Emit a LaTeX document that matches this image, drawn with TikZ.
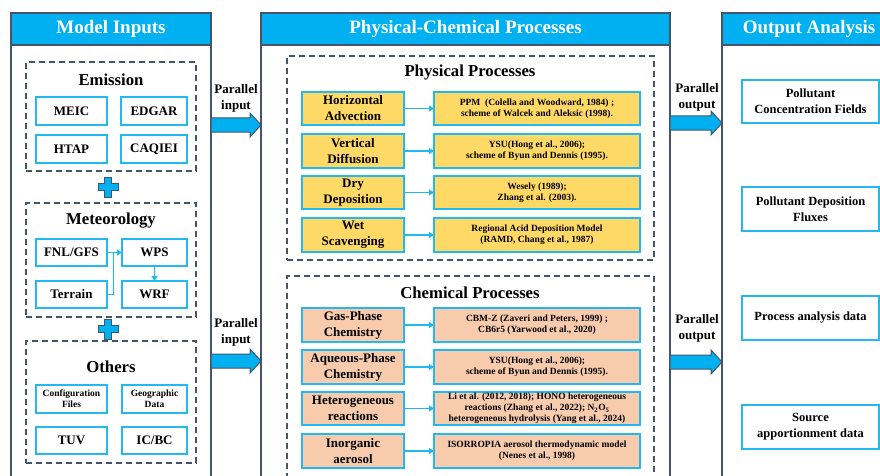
\documentclass[tikz,border=0pt]{standalone}
\usepackage{fontspec}
\setmainfont{Liberation Serif}
\usetikzlibrary{arrows.meta,calc}
\definecolor{hdrc}{HTML}{00B0F0}
\definecolor{framec}{HTML}{44546A}
\definecolor{bxc}{HTML}{22B8F0}
\definecolor{ylw}{HTML}{FFD966}
\definecolor{pch}{HTML}{F8CBAD}
\newcommand\bx[6]{\node[#1, minimum width={#4-#2}, minimum height={#5-#3}] (#6) at ({(#2+#4)/2},{(#3+#5)/2})}
\newcommand\plussign[2]{\path[plussty] (#1,#2) ++(-3.5,-10) -- ++(7,0) -- ++(0,6.5) -- ++(6.5,0) -- ++(0,7) -- ++(-6.5,0) -- ++(0,6.5) -- ++(-7,0) -- ++(0,-6.5) -- ++(-6.5,0) -- ++(0,-7) -- ++(6.5,0) -- cycle;}
\newcommand\blockarrow[3]{\path[barrow] (#1,#3) ++(0,-7) -- ++({#2-#1-11},0) -- ++(0,-5) -- ++(11,12) -- ++(-11,12) -- ++(0,-5) -- ++({-(#2-#1-11)},0) -- cycle;}
\begin{document}
\begin{tikzpicture}[x=1pt,y=-1pt,
  every node/.style={inner sep=1pt, outer sep=0pt},
  panelsty/.style={draw=framec, line width=1.5pt, fill=white},
  hdr/.style={draw=framec, line width=1.5pt, fill=hdrc, text=white, font=\fontsize{19}{22}\selectfont\bfseries},
  dbox/.style={draw=framec, line width=1.2pt, dash pattern=on 6pt off 4pt},
  ibox/.style={draw=bxc, line width=1.6pt, fill=white, align=center, font=\fontsize{13}{16}\selectfont\bfseries},
  smalltxt/.style={font=\fontsize{9.5}{11}\selectfont\bfseries},
  pbox/.style={ibox, fill=ylw},
  cbox/.style={ibox, fill=pch},
  prefbox/.style={pbox, smalltxt},
  crefbox/.style={cbox, smalltxt},
  obox/.style={ibox, font=\fontsize{12.5}{16}\selectfont\bfseries},
  sect/.style={font=\fontsize{16.7}{20}\selectfont\bfseries},
  lbl/.style={font=\fontsize{13}{16}\selectfont\bfseries, align=center},
  conn/.style={draw=bxc, line width=1.3pt, -{Triangle[length=5pt,width=6pt]}},
  thinl/.style={draw=bxc, line width=1.1pt},
  barrow/.style={fill=hdrc, draw=framec, line width=1pt},
  plussty/.style={fill=hdrc, draw=framec, line width=0.8pt}
]
\useasboundingbox (0,0) rectangle (880,476);
\clip (0,0) rectangle (880,476);

% ---------- Left panel ----------
\bx{panelsty}{11}{13}{211}{495}{inP} {};
\bx{hdr}{11}{13}{211}{45}{inH} {Model Inputs};
\bx{dbox}{26}{62}{196}{171}{emiB} {};
\node[sect] (emiT) at (111,80) {Emission};
\bx{ibox}{36}{97}{107}{125}{meic} {MEIC};
\bx{ibox}{121}{97}{187}{125}{edgar} {EDGAR};
\bx{ibox}{36}{135}{107}{163}{htap} {HTAP};
\bx{ibox}{121}{135}{187}{163}{caq} {CAQIEI};
\plussign{108}{187}
\bx{dbox}{26}{203}{196}{317}{metB} {};
\node[sect] (metT) at (111,221) {Meteorology};
\bx{ibox}{36}{239}{107}{266}{fnl} {FNL/GFS};
\bx{ibox}{122}{239}{187}{266}{wps} {WPS};
\bx{ibox}{36}{281}{107}{308}{ter} {Terrain};
\bx{ibox}{122}{281}{187}{308}{wrf} {WRF};
\coordinate (jn) at ($(fnl.east)!0.43!(wps.west)$);
\draw[conn] (fnl.east) -- (wps.west);
\draw[thinl] (ter.east) -| (jn);
\draw[conn] (wps.south) -- (wrf.north);
\plussign{108}{329}
\bx{dbox}{26}{341}{196}{463}{othB} {};
\node[sect] (othT) at (111,367) {Others};
\bx{ibox,smalltxt}{36}{385}{107}{413}{cfg} {Configuration\\Files};
\bx{ibox,smalltxt}{122}{385}{187}{413}{geo} {Geographic\\Data};
\bx{ibox}{36}{427}{107}{454}{tuv} {TUV};
\bx{ibox}{122}{427}{187}{454}{icbc} {IC/BC};

% ---------- Middle panel ----------
\bx{panelsty}{261}{13}{670}{495}{mdP} {};
\bx{hdr}{261}{13}{670}{45}{mdH} {Physical-Chemical Processes};
\bx{dbox}{287}{56}{654}{260}{phyB} {};
\node[sect] (phyT) at (470,73) {Physical Processes};
\bx{pbox}{302}{92}{404}{125}{ha} {Horizontal\\Advection};
\bx{prefbox}{434}{92}{640}{125}{har} {PPM\ \ (Colella and Woodward, 1984) ;\\scheme of Walcek and Aleksic (1998).};
\bx{pbox}{302}{134}{404}{168}{vd} {Vertical\\Diffusion};
\bx{prefbox}{434}{134}{640}{168}{vdr} {YSU(Hong et al., 2006);\\scheme of Byun and Dennis (1995).};
\bx{pbox}{302}{176}{404}{209}{dd} {Dry\\Deposition};
\bx{prefbox}{434}{176}{640}{209}{ddr} {Wesely (1989);\\Zhang et al. (2003).};
\bx{pbox}{302}{218}{404}{252}{ws} {Wet\\Scavenging};
\bx{prefbox}{434}{218}{640}{252}{wsr} {Regional Acid Deposition Model\\(RAMD, Chang et al., 1987)};
\draw[conn] (ha.east) -- (har.west);
\draw[conn] (vd.east) -- (vdr.west);
\draw[conn] (dd.east) -- (ddr.west);
\draw[conn] (ws.east) -- (wsr.west);

\bx{dbox}{287}{276}{654}{495}{chB} {};
\node[sect] (chT) at (470,293) {Chemical Processes};
\bx{cbox}{302}{308}{404}{342}{gp} {Gas-Phase\\Chemistry};
\bx{crefbox}{434}{308}{640}{342}{gpr} {CBM-Z (Zaveri and Peters, 1999) ;\\CB6r5 (Yarwood et al., 2020)};
\bx{cbox}{302}{350}{404}{384}{aq} {Aqueous-Phase\\Chemistry};
\bx{crefbox}{434}{350}{640}{384}{aqr} {YSU(Hong et al., 2006);\\scheme of Byun and Dennis (1995).};
\bx{cbox}{302}{392}{404}{425}{he} {Heterogeneous\\reactions};
\bx{crefbox}{434}{392}{640}{425}{her} {Li et al. (2012, 2018); HONO heterogeneous\\reactions (Zhang et al., 2022); N\textsubscript{2}O\textsubscript{5}\\heterogeneous hydrolysis (Yang et al., 2024)};
\bx{cbox}{302}{434}{404}{468}{ia} {Inorganic\\aerosol};
\bx{crefbox}{434}{434}{640}{468}{iar} {ISORROPIA aerosol thermodynamic model\\(Nenes et al., 1998)};
\draw[conn] (gp.east) -- (gpr.west);
\draw[conn] (aq.east) -- (aqr.west);
\draw[conn] (he.east) -- (her.west);
\draw[conn] (ia.east) -- (iar.west);

% ---------- Right panel ----------
\bx{panelsty}{722}{13}{896}{495}{outP} {};
\bx{hdr}{722}{13}{896}{45}{outH} {Output Analysis};
\bx{obox}{742}{80}{879}{123}{pcf} {Pollutant\\Concentration Fields};
\bx{obox}{742}{187}{879}{231}{pdf} {Pollutant Deposition\\Fluxes};
\bx{obox}{742}{296}{879}{340}{pad} {Process analysis data};
\bx{obox}{742}{405}{879}{449}{sad} {Source\\apportionment data};

% ---------- Block arrows and labels ----------
\blockarrow{211}{261}{125}
\blockarrow{211}{261}{361}
\blockarrow{670}{722}{123}
\blockarrow{670}{722}{362}
\node[lbl] (pi1) at (236,98) {Parallel\\input};
\node[lbl] (pi2) at (236,332) {Parallel\\input};
\node[lbl] (po1) at (697,97) {Parallel\\output};
\node[lbl] (po2) at (697,328) {Parallel\\output};
\end{tikzpicture}
\end{document}
